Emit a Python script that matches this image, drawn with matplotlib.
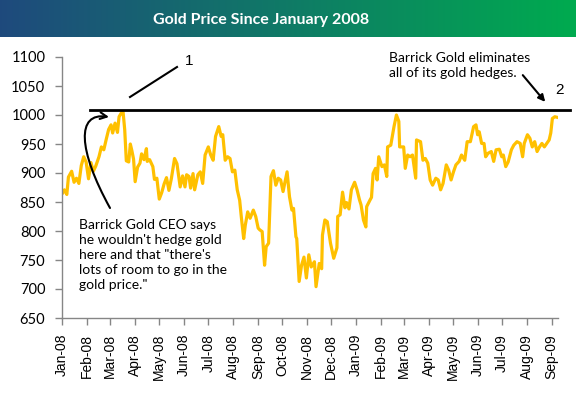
import matplotlib
matplotlib.use('Agg')
import matplotlib.pyplot as plt
import matplotlib.dates as mdates
import numpy as np
import pandas as pd
from matplotlib.path import Path
from matplotlib.patches import FancyArrowPatch
from matplotlib.lines import Line2D

# ---------------- data ----------------
dates = [
    "2008-01-02", "2008-01-04", "2008-01-07", "2008-01-09", "2008-01-13", "2008-01-16", "2008-01-19",
    "2008-01-22", "2008-01-25", "2008-01-28", "2008-01-31", "2008-02-03", "2008-02-06", "2008-02-09",
    "2008-02-12", "2008-02-16", "2008-02-19", "2008-02-22", "2008-02-25", "2008-02-28", "2008-03-02",
    "2008-03-04", "2008-03-07", "2008-03-10", "2008-03-12", "2008-03-15", "2008-03-17", "2008-03-19",
    "2008-03-21", "2008-03-24", "2008-03-26", "2008-03-28", "2008-03-30", "2008-04-01", "2008-04-04",
    "2008-04-07", "2008-04-09", "2008-04-12", "2008-04-15", "2008-04-16", "2008-04-19", "2008-04-23",
    "2008-04-25", "2008-04-28", "2008-05-01", "2008-05-04", "2008-05-07", "2008-05-10", "2008-05-13",
    "2008-05-16", "2008-05-20", "2008-05-23", "2008-05-27", "2008-05-30", "2008-06-02", "2008-06-04",
    "2008-06-07", "2008-06-09", "2008-06-12", "2008-06-14", "2008-06-18", "2008-06-21", "2008-06-24",
    "2008-06-27", "2008-07-01", "2008-07-04", "2008-07-07", "2008-07-10", "2008-07-14", "2008-07-17",
    "2008-07-19", "2008-07-22", "2008-07-25", "2008-07-28", "2008-07-31", "2008-08-03", "2008-08-06",
    "2008-08-09", "2008-08-11", "2008-08-14", "2008-08-16", "2008-08-19", "2008-08-22", "2008-08-26",
    "2008-08-29", "2008-09-01", "2008-09-03", "2008-09-06", "2008-09-09", "2008-09-11", "2008-09-14",
    "2008-09-17", "2008-09-20", "2008-09-23", "2008-09-26", "2008-09-29", "2008-10-02", "2008-10-04",
    "2008-10-07", "2008-10-10", "2008-10-13", "2008-10-15", "2008-10-18", "2008-10-19", "2008-10-22",
    "2008-10-25", "2008-10-28", "2008-10-31", "2008-11-03", "2008-11-06", "2008-11-10", "2008-11-12",
    "2008-11-16", "2008-11-19", "2008-11-20", "2008-11-23", "2008-11-26", "2008-11-30", "2008-12-04",
    "2008-12-08", "2008-12-09", "2008-12-12", "2008-12-15", "2008-12-18", "2008-12-20", "2008-12-23",
    "2008-12-26", "2008-12-30", "2009-01-02", "2009-01-05", "2009-01-07", "2009-01-10", "2009-01-13",
    "2009-01-14", "2009-01-18", "2009-01-20", "2009-01-22", "2009-01-25", "2009-01-27", "2009-01-29",
    "2009-02-02", "2009-02-05", "2009-02-08", "2009-02-09", "2009-02-13", "2009-02-17", "2009-02-20",
    "2009-02-23", "2009-02-24", "2009-03-01", "2009-03-03", "2009-03-06", "2009-03-09", "2009-03-12",
    "2009-03-16", "2009-03-17", "2009-03-22", "2009-03-25", "2009-03-28", "2009-03-31", "2009-04-03",
    "2009-04-06", "2009-04-10", "2009-04-13", "2009-04-16", "2009-04-19", "2009-04-23", "2009-04-26",
    "2009-04-29", "2009-05-02", "2009-05-05", "2009-05-09", "2009-05-12", "2009-05-16", "2009-05-19",
    "2009-05-23", "2009-05-27", "2009-05-30", "2009-06-01", "2009-06-03", "2009-06-06", "2009-06-09",
    "2009-06-11", "2009-06-14", "2009-06-18", "2009-06-21", "2009-06-24", "2009-06-28", "2009-07-01",
    "2009-07-03", "2009-07-06", "2009-07-09", "2009-07-13", "2009-07-16", "2009-07-20", "2009-07-24",
    "2009-07-27", "2009-07-29", "2009-08-02", "2009-08-05", "2009-08-08", "2009-08-11", "2009-08-14",
    "2009-08-17", "2009-08-20", "2009-08-23", "2009-08-26", "2009-08-29", "2009-08-31", "2009-09-02",
    "2009-09-05", "2009-09-08",
]
prices = [
    866, 871, 863, 893, 903, 884, 891,
    882, 913, 928, 919, 890, 918, 903,
    912, 928, 945, 940, 958, 975, 983,
    969, 986, 970, 997, 1004, 1005, 975,
    921, 919, 950, 938, 924, 885, 910,
    917, 933, 923, 942, 920, 923, 911,
    889, 891, 855, 866, 881, 892, 870,
    890, 925, 916, 876, 895, 876, 897,
    894, 874, 899, 871, 897, 902, 882,
    931, 945, 931, 922, 963, 980, 963,
    966, 922, 928, 925, 902, 905, 871,
    853, 825, 787, 810, 833, 822, 836,
    825, 805, 802, 799, 741, 773, 779,
    894, 904, 879, 891, 888, 868, 882,
    902, 859, 836, 839, 790, 787, 713,
    741, 755, 719, 759, 738, 747, 704,
    744, 735, 793, 819, 816, 779, 753,
    771, 825, 828, 867, 840, 849, 838,
    871, 884, 871, 854, 845, 819, 807,
    842, 853, 858, 899, 908, 888, 928,
    911, 914, 894, 945, 948, 980, 1000,
    989, 945, 945, 908, 931, 928, 931,
    891, 957, 954, 922, 925, 917, 888,
    879, 891, 888, 871, 882, 914, 905,
    888, 902, 914, 920, 931, 922, 954,
    954, 980, 983, 966, 971, 951, 951,
    928, 934, 937, 920, 940, 941, 928,
    931, 911, 919, 940, 948, 954, 951,
    928, 951, 966, 960, 945, 954, 937,
    945, 951, 945, 951, 957, 969, 994,
    997, 996,
]
y_ticks = [650, 700, 750, 800, 850, 900, 950, 1000, 1050, 1100]
x_start, x_end = "2008-01-01", "2009-09-09"
month_ticks = pd.date_range("2008-01-01", "2009-09-01", freq="MS")
title = "Gold Price Since January 2008"
note_left = ("Barrick Gold CEO says\nhe wouldn't hedge gold\nhere and that \"there's\n"
             "lots of room to go in the\ngold price.\"")
note_right = "Barrick Gold eliminates\nall of its gold hedges."
level = 1009
level_span = ("2008-02-05", "2009-09-24")

# ---------------- figure ----------------
W, H = 576, 398
fig = plt.figure(figsize=(W / 100, H / 100), dpi=100)
fig.patch.set_facecolor("white")

def fp(x, y):
    """pixel position (from top-left) -> figure fraction"""
    return (x / W, 1 - y / H)

# title band with gradient
band_h = 37
bax = fig.add_axes([0, 1 - band_h / H, 1, band_h / H])
c0 = np.array([0.12, 0.29, 0.49])
c1 = np.array([0.0, 0.67, 0.31])
t = np.linspace(0, 1, 256)[None, :, None]
grad = c0 + (c1 - c0) * t
bax.imshow(grad, aspect="auto", extent=[0, 1, 0, 1])
bax.set_axis_off()
bax.text(261 / W, 0.45, title, transform=bax.transAxes, ha="center", va="center",
         color="white", fontsize=11.5, fontweight="bold", family="Lato")

# main axes
ax = fig.add_axes([62 / W, 1 - 318 / H, (558 - 62) / W, (318 - 57) / H])
ax.plot(pd.to_datetime(dates), prices, color="#FFC000", lw=2.3, solid_joinstyle="round")
ax.set_ylim(650, 1100)
ax.set_xlim(pd.Timestamp(x_start), pd.Timestamp(x_end))
ax.set_yticks(y_ticks)
ax.set_xticks(month_ticks)
ax.xaxis.set_major_formatter(mdates.DateFormatter("%b-%y"))
for s in ["top", "right"]:
    ax.spines[s].set_visible(False)
for s in ["left", "bottom"]:
    ax.spines[s].set_color("#868686")
    ax.spines[s].set_linewidth(1.0)
ax.tick_params(axis="both", direction="out", length=5, color="#868686", width=1)
ax.tick_params(axis="x", pad=6.5)
ax.tick_params(axis="y", pad=7)
for lab in ax.get_xticklabels():
    lab.set_rotation(90)
    lab.set_family("Liberation Sans")
    lab.set_fontsize(10)
for lab in ax.get_yticklabels():
    lab.set_family("Lato")
    lab.set_fontsize(10.5)

# resistance line
ax.plot(pd.to_datetime(list(level_span)), [level, level], color="black", lw=2, clip_on=False)

# annotation 1
fig.add_artist(Line2D([130 / W, 177 / W], [1 - 97 / H, 1 - 67 / H], transform=fig.transFigure,
                      color="black", lw=1.5))
fig.text(*fp(189, 61), "1", ha="center", va="center", fontsize=11, family="Liberation Sans")

verts = [fp(110, 208), fp(78, 150), fp(76, 112), fp(109, 117)]
curve = Path(verts, [Path.MOVETO, Path.CURVE4, Path.CURVE4, Path.CURVE4])
fig.add_artist(FancyArrowPatch(path=curve, transform=fig.transFigure, arrowstyle="->",
                               mutation_scale=12, lw=1.5, color="black"))
fig.text(*fp(79, 219), note_left, ha="left", va="top", fontsize=10, family="Lato",
         linespacing=1.3)

# annotation 2
fig.add_artist(FancyArrowPatch(fp(521, 73), fp(547, 104), transform=fig.transFigure,
                               arrowstyle="-|>", mutation_scale=10, lw=1.5, color="black"))
fig.text(*fp(560, 90), "2", ha="center", va="center", fontsize=11, family="Liberation Sans")
fig.text(*fp(389, 52), note_right, ha="left", va="top", fontsize=10, family="Lato",
         linespacing=1.3)

fig.savefig("out.png", dpi=100, facecolor="white")
